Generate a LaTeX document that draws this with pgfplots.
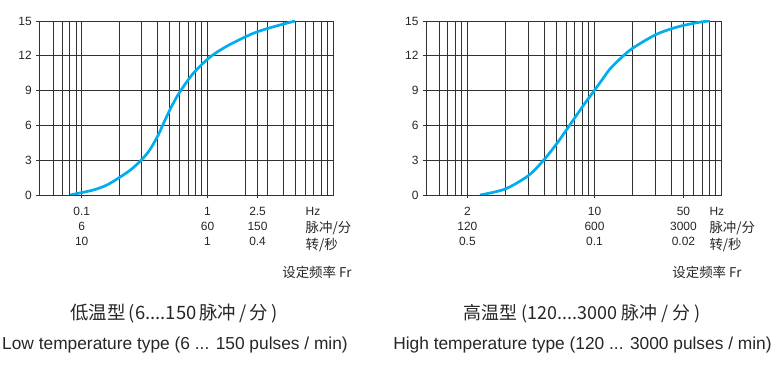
\documentclass[border=0pt]{standalone}
\usepackage{fontspec}
\setmainfont{Liberation Sans}
\newfontfamily\cjk{Noto Sans CJK SC}
\usepackage{pgfplots}
\pgfplotsset{compat=1.18}
\definecolor{curve}{RGB}{0,174,239}
\definecolor{gridc}{RGB}{50,50,50}
\pgfplotsset{
  mychart/.style={
    scale only axis, height=174bp,
    ymin=0, ymax=15, ytick={0,3,6,9,12,15},
    grid=both,
    major grid style={draw=gridc, line width=0.95bp},
    minor grid style={draw=gridc, line width=0.8bp},
    axis line style={draw=gridc, line width=0.8bp},
    tick style={draw=gridc, line width=0.8bp},
    major tick length=3.5bp, minor tick length=0pt, tick align=outside,
    xtick pos=bottom, ytick pos=left,
    /pgf/number format/assume math mode=true,
    tick label style={font=\fontsize{12}{15}\selectfont, text=black!85},
    xticklabel style={align=center, yshift=-5.5bp},
    yticklabel style={xshift=-0.5bp},
  }
}
\begin{document}
\begin{tikzpicture}
\useasboundingbox (0,0) rectangle (782bp,367bp);
% left chart
\begin{semilogxaxis}[mychart, width=294bp, at={(39.3bp,172bp)}, anchor=south west,
  xmin=0.046, xmax=10,
  xtick={0.1,1,2.5}, xticklabels={{0.1\\6\\10},{1\\60\\1},{2.5\\150\\0.4}},
  minor xtick={0.06,0.07,0.08,0.09,0.2,0.3,0.4,0.5,0.6,0.7,0.8,0.9,2,3,4,5,6,7,8,9}]
\addplot[curve, line width=2.7bp, smooth] coordinates {
(0.0807,0) (0.1236,0.43) (0.1585,0.86) (0.1955,1.45) (0.245,2.17) (0.2999,3.05)
(0.349,3.92) (0.406,5.17) (0.445,6.13) (0.519,7.65) (0.604,8.9) (0.771,10.49)
(1.047,11.89) (1.42,12.82) (2.05,13.69) (2.61,14.15) (3.55,14.58) (4.96,15)};
\end{semilogxaxis}
% right chart
\begin{semilogxaxis}[mychart, width=295.7bp, at={(426bp,172bp)}, anchor=south west,
  xmin=0.473, xmax=100,
  xtick={1,10,50}, xticklabels={{2\\120\\0.5},{10\\600\\0.1},{50\\3000\\0.02}},
  minor xtick={0.6,0.7,0.8,0.9,2,3,4,5,6,7,8,9,20,30,40,60,70,80,90}]
\addplot[curve, line width=2.7bp, smooth] coordinates {
(1.257,0) (1.977,0.51) (3.01,1.66) (3.95,2.96) (5.04,4.42) (6.04,5.64) (7.15,6.81)
(8.41,7.91) (9.78,8.89) (11.38,9.88) (13.24,10.87) (16.84,12.0) (20.43,12.73)
(30.8,13.86) (45.6,14.51) (67.5,14.9) (80.9,15)};
\end{semilogxaxis}
% unit labels
\begin{scope}[every node/.style={inner sep=0pt, text=black!85}]
\node[anchor=west, font=\fontsize{12}{14}\selectfont] at (305.5bp,155.5bp) {Hz};
\node[anchor=west, font=\cjk\fontsize{13.5}{15}\selectfont] at (305.5bp,138.5bp) {脉冲/分};
\node[anchor=west, font=\cjk\fontsize{13.5}{15}\selectfont] at (305.5bp,121.5bp) {转/秒};
\node[anchor=east, font=\cjk\fontsize{13.5}{15}\selectfont] at (351.7bp,94.5bp) {设定频率 Fr};
\node[anchor=west, font=\fontsize{12}{14}\selectfont] at (709.3bp,155.5bp) {Hz};
\node[anchor=west, font=\cjk\fontsize{13.5}{15}\selectfont] at (709.3bp,138.5bp) {脉冲/分};
\node[anchor=west, font=\cjk\fontsize{13.5}{15}\selectfont] at (709.3bp,121.5bp) {转/秒};
\node[anchor=east, font=\cjk\fontsize{13.5}{15}\selectfont] at (741.7bp,94.5bp) {设定频率 Fr};
% titles
\node[font=\cjk\fontsize{18.5}{20}\selectfont] at (174bp,53bp) {低温型\,(6....150\,脉冲\,/\,分\,)};
\node[font=\cjk\fontsize{18}{20}\selectfont] at (582bp,53bp) {高温型 (120....3000 脉冲 / 分 )};
\node[anchor=base, font=\fontsize{17.4}{20}\selectfont] at (175bp,18bp) {Low temperature type (6 ... 150 pulses / min)};
\node[anchor=base, font=\fontsize{17.4}{20}\selectfont] at (582.5bp,18bp) {High temperature type (120 ... 3000 pulses / min)};
\end{scope}
\end{tikzpicture}
\end{document}
